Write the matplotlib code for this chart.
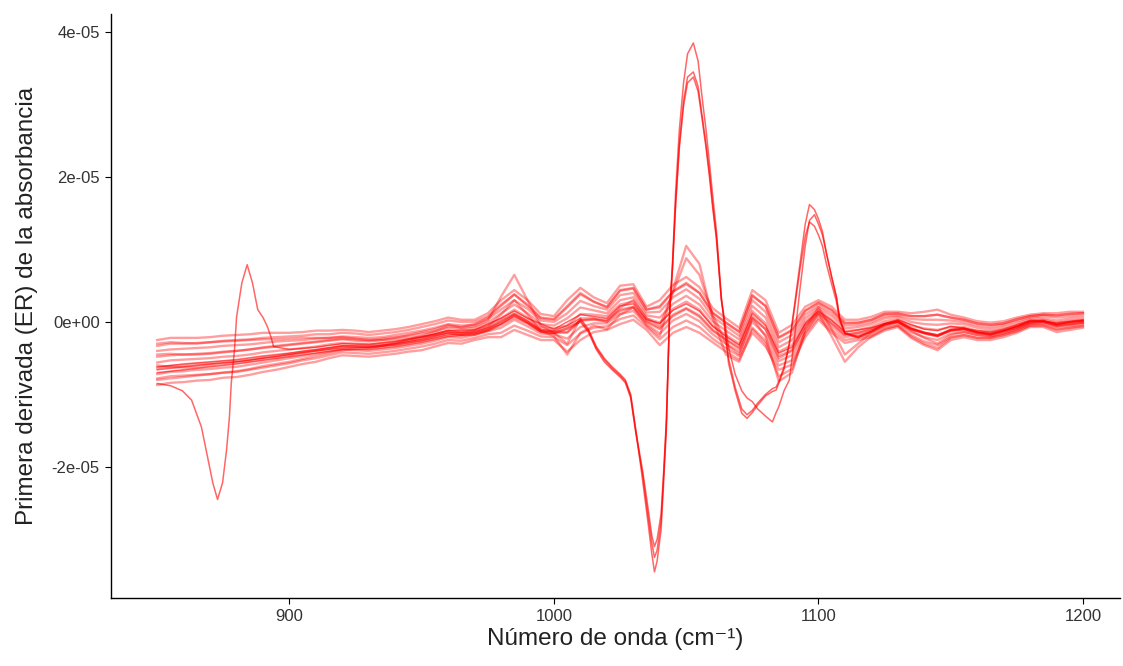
import matplotlib
matplotlib.use("Agg")
import matplotlib.pyplot as plt
from matplotlib.ticker import FuncFormatter

# wavenumber grid (cm-1) for the bulk of the spectra
wavenumber = list(range(850, 1201, 5))

# first derivative of the absorbance, in units of 1e-05
spec_top = [-0.25, -0.22, -0.22, -0.22, -0.21, -0.19, -0.18, -0.17, -0.15, -0.15,
            -0.15, -0.14, -0.12, -0.12, -0.11, -0.12, -0.14, -0.12, -0.10, -0.07,
            -0.03, 0.01, 0.06, 0.03, 0.03, 0.12, 0.30, 0.44, 0.30, 0.11,
            0.08, 0.30, 0.47, 0.34, 0.26, 0.50, 0.52, 0.21, 0.30, 0.51,
            0.62, 0.48, 0.19, 0.05, -0.08, 0.44, 0.30, -0.15, -0.04, 0.21,
            0.30, 0.21, 0.03, 0.03, 0.07, 0.14, 0.14, 0.12, 0.14, 0.17,
            0.10, 0.06, 0.01, -0.01, 0.01, 0.06, 0.10, 0.12, 0.12, 0.14, 0.14]
spec_high = [-0.33, -0.30, -0.30, -0.29, -0.28, -0.26, -0.25, -0.24, -0.22, -0.21,
             -0.20, -0.19, -0.17, -0.17, -0.15, -0.16, -0.18, -0.16, -0.14, -0.11,
             -0.07, -0.03, 0.02, 0.00, 0.00, 0.08, 0.24, 0.38, 0.24, 0.06,
             0.04, 0.22, 0.40, 0.28, 0.20, 0.44, 0.47, 0.17, 0.20, 0.42,
             0.52, 0.40, 0.12, -0.01, -0.14, 0.36, 0.22, -0.22, -0.12, 0.15,
             0.26, 0.16, -0.02, -0.01, 0.03, 0.11, 0.11, 0.08, 0.08, 0.10,
             0.06, 0.03, -0.02, -0.04, -0.02, 0.04, 0.08, 0.10, 0.09, 0.11, 0.12]
spec_upper = [-0.40, -0.38, -0.37, -0.36, -0.35, -0.33, -0.32, -0.31, -0.29, -0.27,
              -0.26, -0.25, -0.23, -0.22, -0.20, -0.21, -0.22, -0.21, -0.18, -0.15,
              -0.12, -0.08, -0.03, -0.05, -0.04, 0.04, 0.17, 0.30, 0.18, 0.02,
              0.00, 0.12, 0.29, 0.22, 0.17, 0.37, 0.40, 0.13, 0.14, 0.34,
              0.45, 0.32, 0.07, -0.06, -0.19, 0.30, 0.14, -0.28, -0.18, 0.10,
              0.23, 0.12, -0.05, -0.04, 0.00, 0.08, 0.09, 0.04, 0.03, 0.03,
              0.02, 0.00, -0.05, -0.07, -0.04, 0.01, 0.06, 0.08, 0.06, 0.08, 0.09]
spec_upmid = [-0.48, -0.46, -0.45, -0.44, -0.43, -0.41, -0.40, -0.38, -0.35, -0.33,
              -0.31, -0.29, -0.27, -0.25, -0.23, -0.24, -0.25, -0.23, -0.21, -0.19,
              -0.16, -0.13, -0.08, -0.10, -0.08, -0.01, 0.12, 0.24, 0.12, -0.03,
              -0.05, 0.05, 0.20, 0.16, 0.12, 0.30, 0.34, 0.09, 0.06, 0.25,
              0.36, 0.24, 0.01, -0.12, -0.24, 0.22, 0.06, -0.35, -0.25, 0.05,
              0.20, 0.08, -0.09, -0.07, -0.03, 0.05, 0.07, 0.00, -0.03, -0.04,
              -0.02, -0.03, -0.08, -0.10, -0.07, -0.02, 0.04, 0.05, 0.02, 0.05, 0.06]
spec_mid = [-0.56, -0.53, -0.52, -0.51, -0.50, -0.48, -0.47, -0.45, -0.42, -0.40,
            -0.38, -0.36, -0.34, -0.31, -0.29, -0.30, -0.31, -0.29, -0.27, -0.24,
            -0.21, -0.17, -0.12, -0.14, -0.11, -0.05, 0.05, 0.17, 0.06, -0.07,
            -0.09, -0.05, 0.11, 0.10, 0.08, 0.24, 0.28, 0.05, -0.01, 0.18,
            0.28, 0.17, -0.05, -0.18, -0.30, 0.15, -0.02, -0.41, -0.32, 0.00,
            0.17, 0.03, -0.13, -0.11, -0.07, 0.01, 0.04, -0.05, -0.09, -0.11,
            -0.07, -0.07, -0.12, -0.13, -0.10, -0.05, 0.02, 0.03, -0.01, 0.02, 0.03]
spec_lowmid = [-0.64, -0.61, -0.60, -0.58, -0.57, -0.55, -0.54, -0.52, -0.49, -0.47,
               -0.44, -0.41, -0.39, -0.36, -0.33, -0.34, -0.35, -0.33, -0.31, -0.28,
               -0.25, -0.21, -0.16, -0.18, -0.14, -0.09, -0.02, 0.10, 0.00, -0.12,
               -0.13, -0.14, 0.02, 0.04, 0.03, 0.17, 0.21, 0.01, -0.08, 0.10,
               0.19, 0.09, -0.11, -0.24, -0.35, 0.08, -0.10, -0.47, -0.39, -0.05,
               0.14, -0.02, -0.17, -0.15, -0.10, -0.03, 0.01, -0.10, -0.15, -0.18,
               -0.12, -0.11, -0.15, -0.16, -0.12, -0.08, -0.01, 0.00, -0.04, -0.02, 0.00]
spec_lower = [-0.72, -0.69, -0.68, -0.66, -0.65, -0.63, -0.62, -0.59, -0.56, -0.53,
              -0.50, -0.47, -0.44, -0.41, -0.38, -0.39, -0.40, -0.38, -0.36, -0.33,
              -0.30, -0.26, -0.21, -0.22, -0.18, -0.13, -0.08, 0.03, -0.06, -0.16,
              -0.17, -0.23, -0.07, -0.02, -0.02, 0.11, 0.15, -0.03, -0.16, 0.02,
              0.11, 0.01, -0.17, -0.30, -0.41, 0.00, -0.18, -0.54, -0.46, -0.10,
              0.10, -0.06, -0.21, -0.18, -0.14, -0.06, -0.02, -0.14, -0.21, -0.25,
              -0.16, -0.14, -0.18, -0.19, -0.15, -0.10, -0.03, -0.02, -0.07, -0.05, -0.03]
spec_low = [-0.78, -0.75, -0.74, -0.73, -0.72, -0.70, -0.69, -0.66, -0.63, -0.60,
            -0.57, -0.53, -0.50, -0.46, -0.42, -0.43, -0.44, -0.42, -0.40, -0.37,
            -0.34, -0.30, -0.25, -0.26, -0.22, -0.17, -0.15, -0.05, -0.12, -0.20,
            -0.21, -0.32, -0.16, -0.08, -0.06, 0.04, 0.09, -0.07, -0.24, -0.07,
            0.02, -0.07, -0.23, -0.36, -0.47, -0.08, -0.26, -0.60, -0.53, -0.16,
            0.06, -0.11, -0.25, -0.22, -0.18, -0.09, -0.05, -0.18, -0.27, -0.32,
            -0.21, -0.18, -0.22, -0.22, -0.18, -0.13, -0.05, -0.05, -0.11, -0.08, -0.06]
spec_bottom = [-0.87, -0.84, -0.83, -0.81, -0.80, -0.77, -0.76, -0.73, -0.69, -0.66,
               -0.62, -0.58, -0.55, -0.50, -0.46, -0.47, -0.48, -0.46, -0.44, -0.41,
               -0.39, -0.34, -0.29, -0.30, -0.25, -0.21, -0.21, -0.11, -0.18, -0.25,
               -0.25, -0.41, -0.25, -0.14, -0.11, -0.03, 0.03, -0.11, -0.32, -0.15,
               -0.07, -0.15, -0.28, -0.41, -0.52, -0.15, -0.34, -0.66, -0.59, -0.21,
               0.03, -0.15, -0.29, -0.25, -0.21, -0.12, -0.07, -0.22, -0.32, -0.39,
               -0.25, -0.21, -0.25, -0.25, -0.21, -0.15, -0.07, -0.07, -0.14, -0.11, -0.08]
spec_cross1 = [-0.30, -0.28, -0.29, -0.30, -0.28, -0.27, -0.26, -0.25, -0.24, -0.24,
               -0.23, -0.22, -0.22, -0.22, -0.21, -0.23, -0.25, -0.25, -0.24, -0.22,
               -0.20, -0.18, -0.15, -0.18, -0.16, -0.12, -0.04, 0.06, -0.02, -0.13,
               -0.15, -0.15, 0.02, 0.03, 0.01, 0.15, 0.20, 0.00, -0.10, 0.08,
               0.18, 0.07, -0.12, -0.25, -0.37, 0.05, -0.10, -0.50, -0.40, -0.05,
               0.12, -0.02, -0.18, -0.15, -0.10, -0.03, 0.00, -0.10, -0.16, -0.20,
               -0.12, -0.10, -0.15, -0.17, -0.13, -0.08, -0.01, 0.00, -0.05, -0.03, -0.01]
spec_cross2 = [-0.80, -0.78, -0.76, -0.74, -0.72, -0.70, -0.68, -0.65, -0.61, -0.58,
               -0.55, -0.51, -0.47, -0.43, -0.39, -0.37, -0.36, -0.33, -0.29, -0.24,
               -0.19, -0.13, -0.06, -0.07, -0.03, 0.06, 0.22, 0.38, 0.22, 0.05,
               0.03, 0.20, 0.38, 0.28, 0.21, 0.43, 0.46, 0.17, 0.22, 0.42,
               0.54, 0.40, 0.13, -0.01, -0.13, 0.37, 0.22, -0.21, -0.11, 0.16,
               0.27, 0.17, -0.01, -0.01, 0.03, 0.11, 0.12, 0.08, 0.08, 0.10,
               0.06, 0.03, -0.02, -0.04, -0.02, 0.03, 0.08, 0.10, 0.09, 0.11, 0.12]
spec_wide1 = [-0.60, -0.62, -0.63, -0.62, -0.60, -0.58, -0.56, -0.54, -0.51, -0.49,
              -0.46, -0.43, -0.40, -0.37, -0.34, -0.34, -0.35, -0.33, -0.30, -0.26,
              -0.22, -0.17, -0.12, -0.15, -0.12, -0.06, 0.10, 0.30, 0.10, -0.12,
              -0.20, -0.45, -0.15, -0.05, -0.10, 0.10, 0.20, -0.05, -0.20, 0.45,
              1.05, 0.80, 0.05, -0.45, -0.55, -0.10, -0.30, -0.75, -0.65, -0.15,
              0.12, -0.20, -0.55, -0.35, -0.20, -0.10, -0.05, -0.20, -0.30, -0.36,
              -0.22, -0.18, -0.22, -0.22, -0.18, -0.12, -0.05, -0.04, -0.10, -0.08, -0.05]
spec_wide2 = [-0.45, -0.44, -0.45, -0.45, -0.44, -0.42, -0.40, -0.38, -0.36, -0.34,
              -0.32, -0.30, -0.28, -0.26, -0.24, -0.26, -0.27, -0.25, -0.22, -0.18,
              -0.14, -0.10, -0.04, -0.08, -0.06, 0.02, 0.35, 0.65, 0.30, -0.05,
              -0.15, -0.30, 0.05, 0.05, 0.00, 0.20, 0.30, 0.05, -0.05, 0.40,
              0.88, 0.65, 0.10, -0.30, -0.45, 0.05, -0.20, -0.82, -0.70, -0.10,
              0.20, -0.10, -0.45, -0.30, -0.15, -0.05, 0.00, -0.12, -0.22, -0.30,
              -0.18, -0.14, -0.18, -0.20, -0.16, -0.10, -0.02, 0.00, -0.06, -0.04, -0.01]

# outlier spectra, read at irregular wavenumbers around their features
odd_a_x = [850, 855, 859.5, 863, 866.7, 869, 871, 872.8, 874.7, 876.2, 877.3, 878, 879.2,
           880, 882, 884, 886, 888, 890, 891.7, 893, 894, 900, 910, 920, 930, 940, 950,
           960, 970, 980, 985, 990, 1000, 1010, 1020, 1025, 1030, 1035, 1040, 1045, 1050,
           1055, 1060, 1065, 1070, 1075, 1080, 1085, 1090, 1095, 1100, 1105, 1110, 1120,
           1130, 1140, 1145, 1150, 1160, 1165, 1170, 1180, 1190, 1200]
odd_a_y = [-0.85, -0.88, -0.95, -1.08, -1.45, -1.86, -2.22, -2.45, -2.22, -1.77, -1.31, -0.84,
           -0.39, 0.07, 0.54, 0.79, 0.54, 0.17, 0.06, -0.07, -0.21, -0.34, -0.38, -0.35,
           -0.30, -0.31, -0.27, -0.21, -0.12, -0.11, 0.05, 0.15, 0.05, -0.10, 0.10, 0.05,
           0.22, 0.25, 0.03, -0.02, 0.16, 0.25, 0.15, -0.06, -0.20, -0.32, 0.12, -0.05,
           -0.43, -0.35, -0.02, 0.15, 0.02, -0.14, -0.08, 0.03, -0.10, -0.12, -0.06, -0.12,
           -0.14, -0.10, 0.02, -0.01, 0.03]

odd_x = [850, 860, 870, 880, 890, 900, 910, 920, 930, 940, 950, 960, 970, 975, 980, 985,
         990, 995, 1000, 1005, 1010, 1013, 1016, 1019, 1022, 1025, 1027, 1029, 1031,
         1033.5, 1035.5, 1037, 1038, 1039, 1040.5, 1041.5, 1042.5, 1043.7, 1044.8, 1046,
         1047.4, 1049, 1050.5, 1052.7, 1054.5, 1056, 1057.5, 1058.8, 1060, 1061.4, 1063.3,
         1064, 1066, 1068.5, 1071, 1073, 1075, 1077, 1080, 1082.6, 1084, 1085, 1087, 1089,
         1091, 1093, 1095, 1096.6, 1098.5, 1100, 1101.5, 1103, 1105, 1106.8, 1108, 1110,
         1115, 1120, 1125, 1130, 1135, 1140, 1145, 1150, 1155, 1160, 1165, 1170, 1175,
         1180, 1185, 1190, 1195, 1200]
odd_b_y = [-0.62, -0.58, -0.55, -0.52, -0.47, -0.43, -0.38, -0.33, -0.33, -0.30, -0.24,
           -0.15, -0.14, -0.08, 0.02, 0.12, 0.02, -0.10, -0.12, -0.05, 0.05, -0.10, -0.34,
           -0.50, -0.62, -0.72, -0.80, -1.00, -1.50, -2.18, -2.75, -3.20, -3.45, -3.30,
           -2.87, -2.20, -1.49, 0.12, 0.81, 1.80, 2.65, 3.30, 3.70, 3.85, 3.60, 3.10, 2.65,
           2.19, 1.75, 1.27, 0.34, 0.10, -0.57, -0.95, -1.26, -1.33, -1.25, -1.15, -1.02,
           -0.96, -0.94, -0.85, -0.65, -0.30, 0.25, 0.80, 1.35, 1.62, 1.55, 1.42, 1.25, 0.95,
           0.62, 0.34, 0.05, -0.15, -0.20, -0.12, -0.02, 0.02, -0.08, -0.14, -0.18, -0.10,
           -0.08, -0.14, -0.16, -0.12, -0.06, 0.01, 0.02, -0.03, 0.00, 0.02]
odd_c_y = [-0.70, -0.66, -0.62, -0.58, -0.53, -0.48, -0.43, -0.38, -0.38, -0.34, -0.28,
           -0.20, -0.18, -0.12, -0.03, 0.08, -0.02, -0.14, -0.16, -0.10, 0.00, -0.14, -0.38,
           -0.55, -0.66, -0.76, -0.84, -1.05, -1.55, -2.10, -2.65, -3.05, -3.25, -3.15,
           -2.75, -2.10, -1.40, 0.10, 0.75, 1.65, 2.45, 3.05, 3.38, 3.45, 3.25, 2.85, 2.45,
           2.05, 1.62, 1.18, 0.30, 0.15, -0.35, -0.72, -0.95, -1.05, -1.10, -1.20, -1.30,
           -1.38, -1.25, -1.17, -0.95, -0.80, -0.20, 0.45, 1.05, 1.40, 1.48, 1.35, 1.20, 0.95,
           0.62, 0.35, 0.05, -0.16, -0.22, -0.14, -0.04, 0.00, -0.10, -0.16, -0.20, -0.12,
           -0.10, -0.15, -0.18, -0.13, -0.07, 0.00, 0.01, -0.04, -0.01, 0.01]
odd_d_y = [-0.66, -0.62, -0.58, -0.55, -0.50, -0.45, -0.40, -0.36, -0.35, -0.32, -0.26,
           -0.18, -0.16, -0.10, 0.00, 0.10, 0.00, -0.12, -0.14, -0.08, 0.02, -0.12, -0.36,
           -0.52, -0.64, -0.74, -0.82, -1.02, -1.52, -2.05, -2.55, -2.95, -3.10, -3.00,
           -2.65, -2.05, -1.35, 0.10, 0.72, 1.60, 2.40, 2.98, 3.30, 3.38, 3.18, 2.80, 2.40,
           2.00, 1.58, 1.15, 0.30, 0.12, -0.50, -0.90, -1.20, -1.28, -1.22, -1.12, -1.00,
           -0.92, -0.90, -0.82, -0.62, -0.30, 0.20, 0.72, 1.18, 1.38, 1.32, 1.20, 1.05, 0.80,
           0.52, 0.28, 0.02, -0.16, -0.21, -0.13, -0.03, 0.01, -0.09, -0.15, -0.19, -0.11,
           -0.09, -0.14, -0.17, -0.12, -0.06, 0.01, 0.02, -0.03, 0.00, 0.02]

band = [spec_top, spec_high, spec_upper, spec_upmid, spec_mid, spec_lowmid, spec_lower,
        spec_low, spec_bottom, spec_cross1, spec_cross2, spec_wide1, spec_wide2]
outliers = [(odd_a_x, odd_a_y), (odd_x, odd_b_y), (odd_x, odd_c_y), (odd_x, odd_d_y)]

plt.rcParams['font.family'] = ['Liberation Sans', 'DejaVu Sans']

fig = plt.figure(figsize=(11.23, 6.66), dpi=100)
ax = fig.add_axes([0.0988, 0.1021, 0.8985, 0.8769])

for s in band:
    ax.plot(wavenumber, [v * 1e-5 for v in s], color='red', lw=1.7, alpha=0.38)
for xs, ys in outliers:
    ax.plot(xs, [v * 1e-5 for v in ys], color='red', lw=1.1, alpha=0.6)

ax.set_xlim(832.5, 1214)
ax.set_ylim(-3.81e-5, 4.25e-5)
ax.set_xticks([900, 1000, 1100, 1200])
ax.set_yticks([-2e-5, 0, 2e-5, 4e-5])
ax.yaxis.set_major_formatter(FuncFormatter(lambda v, p: f"{v:.0e}"))

for side in ['top', 'right']:
    ax.spines[side].set_visible(False)
for side in ['left', 'bottom']:
    ax.spines[side].set_linewidth(1.0)
    ax.spines[side].set_color('black')
ax.tick_params(length=4, width=0.8, colors='black', labelcolor='#333333', labelsize=12, pad=4)

ax.set_xlabel("Número de onda (cm⁻¹)", fontsize=17.5, color='#222222', labelpad=3)
ax.set_ylabel("Primera derivada (ER) de la absorbancia", fontsize=17.5, color='#222222',
              labelpad=10)

fig.savefig("out.png", dpi=100)
